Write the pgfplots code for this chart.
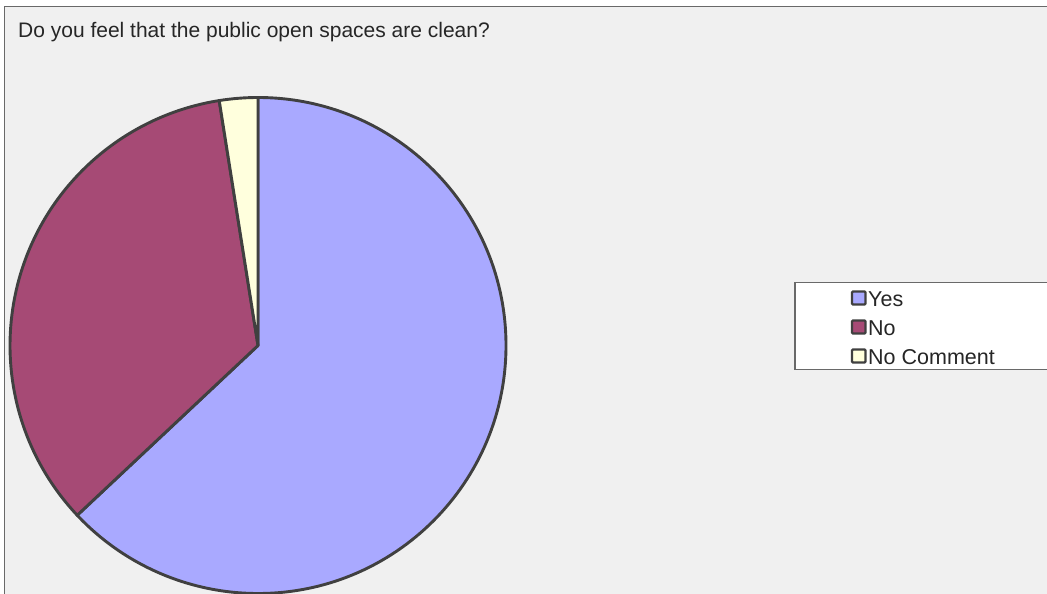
\documentclass[border=0pt]{standalone}
\usepackage{pgfplots}
\pgfplotsset{compat=1.18}
\usepackage{pgfplotstable}
\usepackage{fontspec}
\setmainfont{Liberation Sans}

\definecolor{bgpanel}{RGB}{240,240,240}
\definecolor{framecol}{RGB}{105,105,105}
\definecolor{edgecol}{RGB}{64,64,64}
\definecolor{cyes}{RGB}{169,169,255}
\definecolor{cno}{RGB}{166,74,117}
\definecolor{cnc}{RGB}{255,255,221}

% shares in percent
\pgfplotstableread{
label value
Yes 63.0
No 34.5
NoComment 2.5
}\piedata

\begin{document}
\begin{tikzpicture}
\pgfplotstablegetelem{0}{value}\of\piedata \let\vYes\pgfplotsretval
\pgfplotstablegetelem{1}{value}\of\piedata \let\vNo\pgfplotsretval
\pgfplotstablegetelem{2}{value}\of\piedata \let\vNc\pgfplotsretval
\pgfmathsetmacro\aYes{90-3.6*\vYes}
\pgfmathsetmacro\aNo{\aYes-3.6*\vNo}
\pgfmathsetmacro\aNc{\aNo-3.6*\vNc}
\def\R{248pt}
\begin{axis}[
  width=1047pt, height=594pt, scale only axis,
  xmin=0, xmax=1047, ymin=0, ymax=594, y dir=reverse,
  hide axis, clip=true,
]
\fill[white] (axis cs:0,0) rectangle (axis cs:1047,594);
\filldraw[fill=bgpanel, draw=framecol, line width=1.6pt] (axis cs:4.5,6.5) rectangle (axis cs:1090,650);
\node[anchor=base west, inner sep=0, font=\fontsize{21}{25}\selectfont, text=black!85]
  at (axis cs:18,38) {Do you feel that the public open spaces are clean?};

% pie
\filldraw[fill=cyes, draw=edgecol, line width=2.9pt, line join=round]
  (axis cs:258,345.5) -- ++(90:\R) arc[start angle=90, end angle=\aYes, radius=\R] -- cycle;
\filldraw[fill=cno, draw=edgecol, line width=2.9pt, line join=round]
  (axis cs:258,345.5) -- ++(\aYes:\R) arc[start angle=\aYes, end angle=\aNo, radius=\R] -- cycle;
\filldraw[fill=cnc, draw=edgecol, line width=2.9pt, line join=round]
  (axis cs:258,345.5) -- ++(\aNo:\R) arc[start angle=\aNo, end angle=\aNc, radius=\R] -- cycle;

% legend
\filldraw[fill=white, draw=framecol, line width=1.2pt] (axis cs:795,282.5) rectangle (axis cs:1090,369.5);
\filldraw[fill=cyes, draw=edgecol, line width=2.2pt, rounded corners=1pt] (axis cs:852,291.5) rectangle (axis cs:865.5,304.5);
\filldraw[fill=cno, draw=edgecol, line width=2.2pt, rounded corners=1pt] (axis cs:852,320.5) rectangle (axis cs:865.5,333.5);
\filldraw[fill=cnc, draw=edgecol, line width=2.2pt, rounded corners=1pt] (axis cs:852,349.5) rectangle (axis cs:865.5,362.5);
\node[anchor=base west, inner sep=0, font=\fontsize{21.5}{25}\selectfont, text=black!85] at (axis cs:868,306.5) {Yes};
\node[anchor=base west, inner sep=0, font=\fontsize{21.5}{25}\selectfont, text=black!85] at (axis cs:868,335.5) {No};
\node[anchor=base west, inner sep=0, font=\fontsize{21.5}{25}\selectfont, text=black!85] at (axis cs:868,364.5) {No Comment};
\end{axis}
\pgfresetboundingbox
\path (current axis.south west) rectangle (current axis.north east);
\end{tikzpicture}
\end{document}
